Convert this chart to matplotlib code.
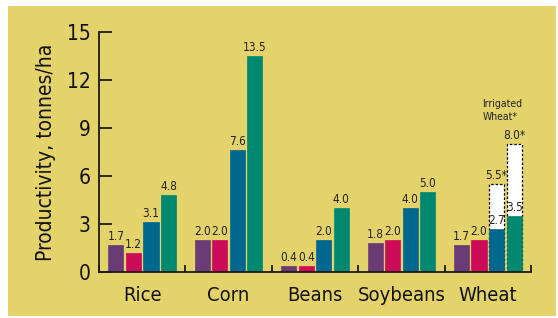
import numpy as np
import matplotlib
matplotlib.use('Agg')
import matplotlib.pyplot as plt
from matplotlib.patches import Rectangle

crops = ['Rice', 'Corn', 'Beans', 'Soybeans', 'Wheat']
series_1 = [1.7, 2.0, 0.4, 1.8, 1.7]
series_2 = [1.2, 2.0, 0.4, 2.0, 2.0]
series_3 = [3.1, 7.6, 2.0, 4.0, 2.7]
series_4 = [4.8, 13.5, 4.0, 5.0, 3.5]
irrigated_wheat = [5.5, 8.0]   # series_3 and series_4, Wheat only
y_ticks = [0, 3, 6, 9, 12, 15]

colors = ['#6a3b74', '#cc0b59', '#00678f', '#008870']
bg = '#e4d36b'

plt.rcParams['font.family'] = ['DejaVu Sans']
plt.rcParams['font.stretch'] = 'condensed'

fig = plt.figure(figsize=(5.58, 3.18), dpi=100, facecolor='white')
fig.patches.append(Rectangle((8 / 558, 2 / 318), 548 / 558, 310 / 318,
                             transform=fig.transFigure, facecolor=bg,
                             edgecolor='none', zorder=-10))
ax = fig.add_axes([99 / 558, 1 - 272 / 318, 432 / 558, 240 / 318])
ax.set_zorder(5)
ax.set_facecolor('none')

x = np.arange(len(crops))
step = 0.203
width = 0.175
series = [series_1, series_2, series_3, series_4]

# irrigated wheat boxes behind the normal bars
wi = crops.index('Wheat')
for k, val in zip([2, 3], irrigated_wheat):
    ax.bar(x[wi] + (k - 1.5) * step, val, width, facecolor='white',
           edgecolor='black', linestyle=(0, (2, 1.5)), linewidth=0.9, zorder=1)
    ax.text(x[wi] + (k - 1.5) * step, val + 0.12, f'{val:.1f}*',
            ha='center', va='bottom', fontsize=8.5, color='#222222')

for k, vals in enumerate(series):
    pos = x + (k - 1.5) * step
    ax.bar(pos, vals, width, color=colors[k], edgecolor=colors[k],
           linewidth=0.5, zorder=2)
    for p, v in zip(pos, vals):
        ax.text(p, v + 0.12, f'{v:.1f}', ha='center', va='bottom',
                fontsize=8.5, color='#222222', zorder=3)

ax.text(x[wi] - 0.06, 9.4, 'Irrigated\nWheat*', ha='left', va='bottom',
        fontsize=7.5, color='#222222', linespacing=1.35)

ax.set_xlim(-0.5, len(crops) - 0.5)
ax.set_ylim(0, 15)
ax.set_yticks(y_ticks)
ax.set_xticks(x)
ax.set_xticklabels(crops)
ax.set_xticks(np.arange(-0.5, len(crops)), minor=True)

for s in ['top', 'right']:
    ax.spines[s].set_visible(False)
for s in ['left', 'bottom']:
    ax.spines[s].set_color('#1a1a1a')
    ax.spines[s].set_linewidth(1.3)

ax.tick_params(axis='y', direction='in', length=9, width=1.3, color='#1a1a1a',
               labelsize=15, pad=6, labelcolor='#111111')
ax.tick_params(axis='x', which='major', length=0, labelsize=14.5, pad=10,
               labelcolor='#111111')
ax.tick_params(axis='x', which='minor', direction='in', length=5, width=1.3,
               color='#1a1a1a')

ax.set_ylabel('Productivity, tonnes/ha', fontsize=15, color='#111111',
              labelpad=8)

fig.savefig('out.png', dpi=100, facecolor=fig.get_facecolor())
